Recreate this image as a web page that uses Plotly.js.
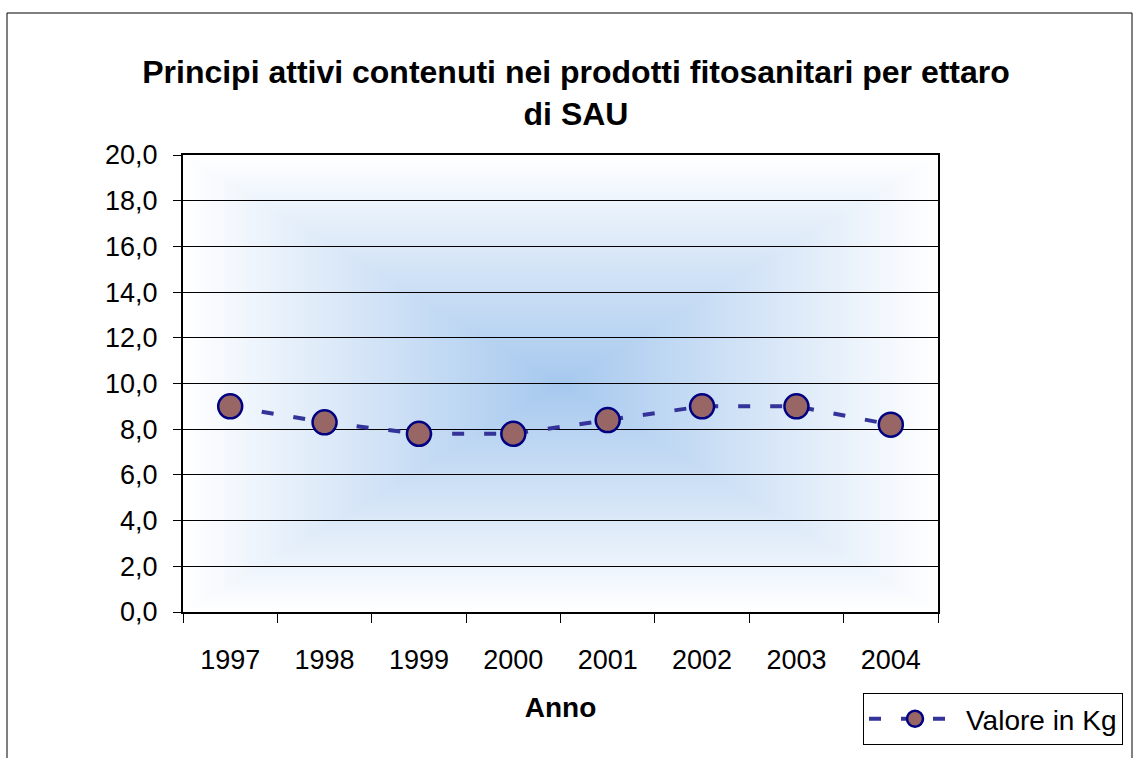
<!DOCTYPE html>
<html>
<head>
<meta charset="utf-8">
<script src="https://cdn.plot.ly/plotly-3.0.1.min.js"></script>
<style>
html,body{margin:0;padding:0;background:#fff;}
#chart{width:1141px;height:758px;}
</style>
</head>
<body>
<div id="chart"></div>
<script>
// Data
const years = ['1997','1998','1999','2000','2001','2002','2003','2004'];
const values = [9.0, 8.3, 7.8, 7.8, 8.4, 9.0, 9.0, 8.2];
const seriesName = 'Valore in Kg';
const yTicks = [0,2,4,6,8,10,12,14,16,18,20];

// Plot area geometry (pixels)
const L = 183, R = 938, T = 155, B = 612, W = 1141, H = 758;
const pw = R - L, ph = B - T;

// Rectangular path gradient background
function makeGradient(w, h) {
  const c = document.createElement('canvas');
  c.width = w; c.height = h;
  const ctx = c.getContext('2d');
  const img = ctx.createImageData(w, h);
  const cr = 166, cg = 200, cb = 238;
  for (let y = 0; y < h; y++) {
    for (let x = 0; x < w; x++) {
      const dx = Math.abs(x - w / 2) / (w / 2);
      const dy = Math.abs(y - h / 2) / (h / 2);
      let t = Math.max(dx, dy);
      if (t > 1) t = 1;
      const k = 1 - t;
      const i = (y * w + x) * 4;
      img.data[i] = Math.round(255 + (cr - 255) * k);
      img.data[i + 1] = Math.round(255 + (cg - 255) * k);
      img.data[i + 2] = Math.round(255 + (cb - 255) * k);
      img.data[i + 3] = 255;
    }
  }
  ctx.putImageData(img, 0, 0);
  return c.toDataURL('image/png');
}

const font = 'Liberation Sans, Arial, sans-serif';

const trace = {
  x: years,
  y: values,
  type: 'scatter',
  mode: 'lines+markers',
  name: seriesName,
  line: {color: '#333399', width: 4, dash: '12px,20px'},
  marker: {symbol: 'circle', size: 24, color: '#996666', line: {color: '#000080', width: 2.5}},
  hoverinfo: 'x+y'
};

const layout = {
  width: W, height: H,
  margin: {l: L, r: W - R, t: T, b: H - B, pad: 0},
  paper_bgcolor: '#ffffff',
  plot_bgcolor: 'rgba(0,0,0,0)',
  separators: ',.',
  font: {family: font, size: 27, color: '#000'},
  title: {
    text: '<b>Principi attivi contenuti nei prodotti fitosanitari per ettaro<br>di SAU</b>',
    font: {family: font, size: 32, color: '#000'},
    x: 576 / W, xanchor: 'center', xref: 'container',
    y: 1 - 83 / H, yanchor: 'top', yref: 'container'
  },
  xaxis: {
    type: 'category',
    range: [-0.5, years.length - 0.5],
    tickson: 'boundaries',
    ticks: 'outside', ticklen: 9, tickwidth: 1, tickcolor: '#000',
    ticklabelstandoff: 23,
    showline: true, linecolor: '#000', linewidth: 2, mirror: true,
    showgrid: false, zeroline: false,
    tickfont: {family: font, size: 27},
    title: {text: '<b>Anno</b>', font: {family: font, size: 28}, standoff: 23}
  },
  yaxis: {
    range: [0, 20],
    tickvals: yTicks,
    tickformat: '.1f',
    ticks: 'outside', ticklen: 8, tickwidth: 1, tickcolor: '#000',
    ticklabelstandoff: 10,
    showline: true, linecolor: '#000', linewidth: 2, mirror: true,
    showgrid: true, gridcolor: '#000', gridwidth: 1,
    zeroline: false,
    tickfont: {family: font, size: 27}
  },
  showlegend: true,
  legend: {
    x: (863 - L) / pw, xanchor: 'left',
    y: (B - 693) / ph, yanchor: 'top',
    bordercolor: '#000', borderwidth: 1, bgcolor: '#fff',
    itemwidth: 92,
    font: {family: font, size: 28}
  },
  images: [{
    source: makeGradient(pw, ph),
    xref: 'paper', yref: 'paper', x: 0, y: 1, sizex: 1, sizey: 1,
    xanchor: 'left', yanchor: 'top', sizing: 'stretch', layer: 'below'
  }],
  shapes: [{
    type: 'rect', xref: 'paper', yref: 'paper',
    x0: (7 - L) / pw, x1: (1132 - L) / pw,
    y0: -0.6, y1: (B - 13) / ph,
    line: {color: '#000', width: 1}, fillcolor: 'rgba(0,0,0,0)', layer: 'below'
  }]
};

Plotly.newPlot('chart', [trace], layout, {displayModeBar: false, staticPlot: true});
</script>
</body>
</html>
